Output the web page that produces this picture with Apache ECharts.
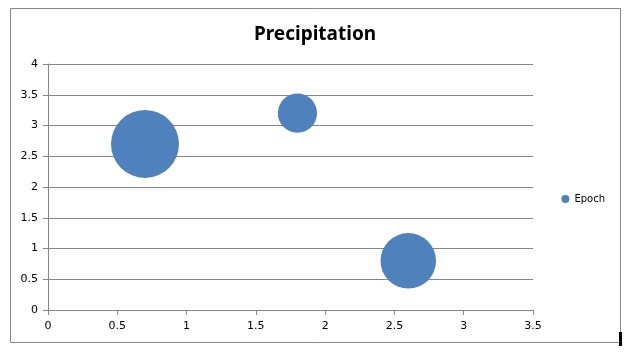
<!DOCTYPE html>
<html><head><meta charset="utf-8">
<script src="https://cdn.jsdelivr.net/npm/echarts@6/dist/echarts.min.js"></script>
<style>html,body{margin:0;padding:0;background:#fff}#c{width:630px;height:353px}</style>
</head><body><div id="c"></div>
<script>
var xValues = [0.7, 1.8, 2.6];
var yValues = [2.7, 3.2, 0.8];
var bubbleSizes = [3, 1, 2];
var seriesName = 'Epoch';
var titleText = 'Precipitation';

var maxSize = Math.max.apply(null, bubbleSizes);
var data = xValues.map(function (x, i) { return [x, yValues[i], bubbleSizes[i]]; });
var labelFont = 'DejaVu Sans';
var chart = echarts.init(document.getElementById('c'));
chart.setOption({
  animation: false,
  title: {
    text: titleText, left: 'center', top: 20,
    textStyle: { fontFamily: 'Noto Sans', fontWeight: 'bold', fontSize: 19, color: '#000' }
  },
  legend: {
    right: 20, top: 189, orient: 'vertical', icon: 'circle', itemWidth: 8, itemHeight: 8, itemGap: 4,
    textStyle: { fontFamily: labelFont, fontSize: 10, color: '#000' },
    data: [seriesName]
  },
  graphic: [
    { type: 'rect', shape: { x: 10.5, y: 8.5, width: 610, height: 334 }, style: { fill: 'none', stroke: '#888', lineWidth: 1 }, z: -1 },
    { type: 'rect', shape: { x: 619, y: 332, width: 3, height: 14 }, style: { fill: '#000' } }
  ],
  grid: { left: 48, right: 97, top: 64, bottom: 43 },
  xAxis: {
    type: 'value', min: 0, max: 3.5, interval: 0.5,
    axisLine: { show: true, lineStyle: { color: '#868686' } },
    axisTick: { show: true, length: 5, lineStyle: { color: '#868686' } },
    splitLine: { show: false },
    axisLabel: { fontFamily: labelFont, fontSize: 11, color: '#000', margin: 11 }
  },
  yAxis: {
    type: 'value', min: 0, max: 4, interval: 0.5,
    axisLine: { show: true, lineStyle: { color: '#868686' } },
    axisTick: { show: true, length: 5, lineStyle: { color: '#868686' } },
    splitLine: { show: true, lineStyle: { color: '#868686' } },
    axisLabel: { fontFamily: labelFont, fontSize: 11, color: '#000', margin: 10 }
  },
  series: [{
    name: seriesName, type: 'scatter', data: data,
    symbolSize: function (v) { return 68 * Math.sqrt(v[2] / maxSize); },
    itemStyle: { color: '#4F81BD', opacity: 1 }
  }]
});
</script></body></html>
